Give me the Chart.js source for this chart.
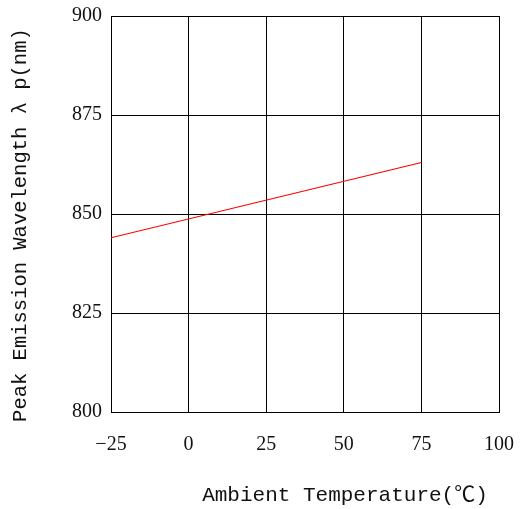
<!DOCTYPE html>
<html>
<head>
<meta charset="utf-8">
<script src="https://cdn.jsdelivr.net/npm/chart.js@4"></script>
<style>
  html, body { margin: 0; padding: 0; background: #fff; }
  #wrap { width: 523px; height: 509px; }
</style>
</head>
<body>
<div id="wrap"><canvas id="chart-wavelength"></canvas></div>
<script>
// Peak wavelength vs ambient temperature
const tempPoints = [-25, 75];
const wavelengthPoints = [844, 863];
const xTicks = [-25, 0, 25, 50, 75, 100];
const yTicks = [800, 825, 850, 875, 900];
const xTitle = 'Ambient Temperature(℃)';
const yTitle = 'Peak Emission Wavelength λ p(nm)';

const COLORS = {
  line: '#ff0000',
  grid: '#000000',
  text: '#111111'
};

const tickFont = { family: '"Liberation Serif", serif', size: 20 };
const X_TITLE_FONT = '21px "Liberation Mono", "Noto Sans CJK SC", monospace';
const Y_TITLE_FONT = '20.5px "Liberation Mono", "Noto Sans CJK SC", monospace';

// axis titles sit off-centre in the original, so draw them by hand
const axisTitles = {
  id: 'axisTitles',
  afterDraw(chart) {
    const { ctx, chartArea: a } = chart;
    ctx.save();
    ctx.fillStyle = COLORS.text;
    ctx.textAlign = 'center';
    ctx.textBaseline = 'middle';
    ctx.font = X_TITLE_FONT;
    ctx.fillText(xTitle, a.left + (a.right - a.left) * 0.603, a.bottom + 83);
    ctx.font = Y_TITLE_FONT;
    ctx.translate(a.left - 90, a.top + (a.bottom - a.top) * 0.528);
    ctx.rotate(-Math.PI / 2);
    ctx.fillText(yTitle, 0, 0);
    ctx.restore();
  }
};

new Chart(document.getElementById('chart-wavelength'), {
  type: 'line',
  data: {
    datasets: [{
      data: tempPoints.map((t, i) => ({ x: t, y: wavelengthPoints[i] })),
      borderColor: COLORS.line,
      borderWidth: 1.2,
      pointRadius: 0,
      fill: false,
      tension: 0
    }]
  },
  options: {
    responsive: true,
    maintainAspectRatio: false,
    animation: false,
    layout: { padding: { top: 16, right: 24, bottom: 0, left: 0 } },
    plugins: { legend: { display: false }, tooltip: { enabled: false } },
    scales: {
      x: {
        type: 'linear',
        min: xTicks[0],
        max: xTicks[xTicks.length - 1],
        afterBuildTicks: s => { s.ticks = xTicks.map(v => ({ value: v })); },
        afterFit: s => { s.height = 97; },
        grid: { color: COLORS.grid, lineWidth: 1, drawTicks: true, tickLength: 21, tickColor: 'rgba(0,0,0,0)' },
        border: { color: COLORS.grid, width: 1 },
        ticks: {
          color: COLORS.text,
          font: tickFont,
          padding: 0,
          maxRotation: 0,
          callback: v => (v < 0 ? '\u2212' + Math.abs(v) : String(v))
        }
      },
      y: {
        min: yTicks[0],
        max: yTicks[yTicks.length - 1],
        afterBuildTicks: s => { s.ticks = yTicks.map(v => ({ value: v })); },
        afterFit: s => { s.width = 111; },
        grid: { color: COLORS.grid, lineWidth: 1, drawTicks: true, tickLength: 9, tickColor: 'rgba(0,0,0,0)' },
        border: { color: COLORS.grid, width: 1 },
        ticks: { color: COLORS.text, font: tickFont, padding: 0 }
      }
    }
  },
  plugins: [axisTitles]
});
</script>
</body>
</html>
